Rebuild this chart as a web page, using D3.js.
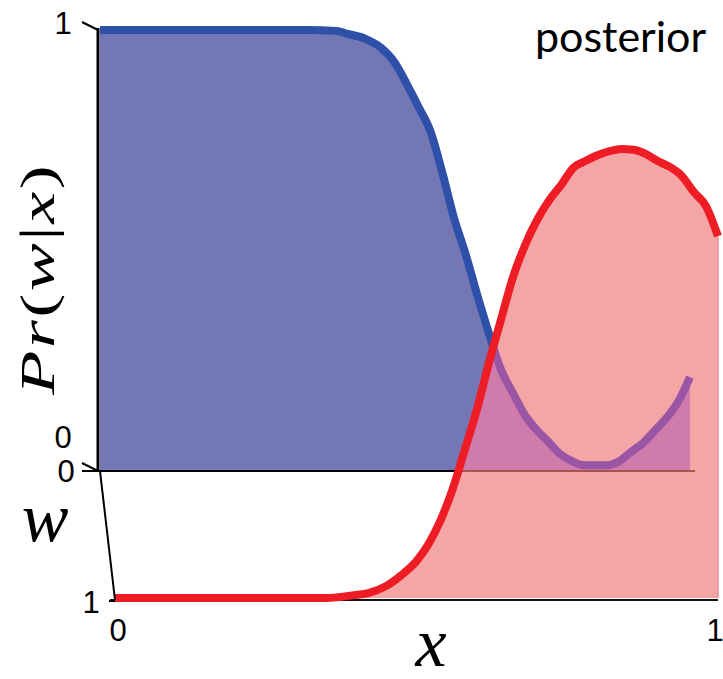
<!DOCTYPE html>
<html>
<head>
<meta charset="utf-8">
<script src="https://cdn.jsdelivr.net/npm/d3@7/dist/d3.min.js"></script>
<style>
  html, body { margin: 0; padding: 0; background: #fff; }
  svg { display: block; }
</style>
</head>
<body>
<script>
// Posterior Pr(w|x) for the two world states, drawn as two receding planes.
const xGrid = [0, 0.1, 0.2, 0.3, 0.35, 0.40, 0.42, 0.45, 0.475, 0.50,
  0.52, 0.54, 0.56, 0.58, 0.60, 0.62, 0.64, 0.66, 0.68, 0.70,
  0.72, 0.74, 0.76, 0.78, 0.80, 0.82, 0.84, 0.86, 0.88, 0.90,
  0.92, 0.94, 0.96, 0.98, 1.00];
// Pr(w=0|x)
const postW0 = [1, 1, 1, 1, 1, 0.998, 0.991, 0.98, 0.961, 0.925,
  0.877, 0.825, 0.77, 0.677, 0.573, 0.489, 0.395, 0.307, 0.227, 0.175,
  0.125, 0.091, 0.064, 0.036, 0.02, 0.011, 0.011, 0.011, 0.02, 0.041,
  0.061, 0.089, 0.118, 0.155, 0.211];
// Pr(w=1|x)
const postW1 = [0, 0, 0, 0, 0, 0.007, 0.011, 0.027, 0.051, 0.082,
  0.12, 0.173, 0.242, 0.329, 0.418, 0.522, 0.618, 0.713, 0.784, 0.84,
  0.884, 0.918, 0.956, 0.971, 0.984, 0.993, 0.998, 0.996, 0.987, 0.971,
  0.958, 0.938, 0.902, 0.871, 0.804];
const xTicks = [0, 1];
const probTicks = [0, 1];
const wTicks = [0, 1];
const title = "posterior";

const W = 723, H = 679;
const svg = d3.select("body").append("svg").attr("width", W).attr("height", H);

// back plane (w = 0) and front plane (w = 1)
const xBack = d3.scaleLinear().domain([0, 1]).range([100, 690]);
const yBack = d3.scaleLinear().domain([0, 1]).range([470, 30]);
const xFront = d3.scaleLinear().domain([0, 1]).range([115, 718]);
const yFront = d3.scaleLinear().domain([0, 1]).range([598, 148]);
// receding w axis
const wX = d3.scaleLinear().domain([0, 1]).range([100, 115]);
const wY = d3.scaleLinear().domain([0, 1]).range([471, 600]);

const back = xGrid.map((x, i) => ({ x, p: postW0[i] }));
const front = xGrid.map((x, i) => ({ x, p: postW1[i] }));

const curve = d3.curveMonotoneX;
const areaBack = d3.area().x(d => xBack(d.x)).y0(yBack(0)).y1(d => yBack(d.p)).curve(curve);
const lineBack = d3.line().x(d => xBack(d.x)).y(d => yBack(d.p)).curve(curve);
const areaFront = d3.area().x(d => xFront(d.x)).y0(yFront(0)).y1(d => yFront(d.p)).curve(curve);
const lineFront = d3.line().x(d => xFront(d.x)).y(d => yFront(d.p)).curve(curve);

const COL = {
  blueFill: "#7378b5", blueLine: "#2e50a8",
  redFill: "#f4a6a7", redLine: "#ee1c25",
  mixFill: "#cf7bac", mixLine: "#9b55a5", mixBase: "#a8544f"
};

svg.append("defs").append("clipPath").attr("id", "frontClip")
  .append("path").attr("d", areaFront(front));

// back plane
svg.append("path").attr("d", areaBack(back)).attr("fill", COL.blueFill);
svg.append("path").attr("d", lineBack(back)).attr("fill", "none")
  .attr("stroke", COL.blueLine).attr("stroke-width", 8).attr("stroke-linejoin", "round");
svg.append("line").attr("x1", 82).attr("x2", xBack(1) + 5)
  .attr("y1", yBack(0) + 1).attr("y2", yBack(0) + 1)
  .attr("stroke", "#000").attr("stroke-width", 2);
svg.append("line").attr("x1", xBack(0) - 2).attr("x2", xBack(0) - 2)
  .attr("y1", yBack(1) - 2).attr("y2", yBack(0) + 1)
  .attr("stroke", "#000").attr("stroke-width", 3);

// front plane
svg.append("path").attr("d", areaFront(front)).attr("fill", COL.redFill);
svg.append("line").attr("x1", xFront(1)).attr("x2", xFront(1))
  .attr("y1", yFront(front[front.length - 1].p)).attr("y2", yFront(0))
  .attr("stroke", "#ee8f91").attr("stroke-width", 1.5);

// back plane seen through the front plane
const seen = svg.append("g").attr("clip-path", "url(#frontClip)");
seen.append("path").attr("d", areaBack(back)).attr("fill", COL.mixFill);
seen.append("path").attr("d", lineBack(back)).attr("fill", "none")
  .attr("stroke", COL.mixLine).attr("stroke-width", 8).attr("stroke-linejoin", "round");
seen.append("line").attr("x1", 82).attr("x2", xBack(1) + 5)
  .attr("y1", yBack(0) + 1).attr("y2", yBack(0) + 1)
  .attr("stroke", COL.mixBase).attr("stroke-width", 2);

// front baseline and curve
svg.append("line").attr("x1", 110).attr("x2", xFront(1))
  .attr("y1", yFront(0) + 2).attr("y2", yFront(0) + 2)
  .attr("stroke", "#111").attr("stroke-width", 2);
svg.append("path").attr("d", lineFront(front)).attr("fill", "none")
  .attr("stroke", COL.redLine).attr("stroke-width", 8).attr("stroke-linejoin", "round");

// w axis
svg.append("line").attr("x1", wX(0)).attr("y1", wY(0)).attr("x2", wX(1)).attr("y2", wY(1))
  .attr("stroke", "#000").attr("stroke-width", 2);

const numFont = "'Liberation Sans', Arial, sans-serif";
const tickG = svg.append("g").attr("font-family", numFont).attr("font-size", 31).attr("fill", "#000");

// probability ticks (slanted, following the receding direction)
probTicks.forEach(p => {
  const ax = xBack(0) - 2, ay = yBack(p) + (p === 0 ? 1 : 0);
  svg.append("line").attr("x1", ax - 16).attr("y1", ay - 8).attr("x2", ax).attr("y2", ay)
    .attr("stroke", "#000").attr("stroke-width", 2);
  tickG.append("text").attr("x", 63).attr("y", p === 1 ? 34 : 448)
    .attr("text-anchor", "middle").text(p);
});

// w ticks
wTicks.forEach(w => {
  const ax = wX(w), ay = wY(w) + (w === 1 ? 1 : 0);
  if (w === 1) {
    svg.append("line").attr("x1", ax - 6).attr("y1", ay).attr("x2", ax).attr("y2", ay)
      .attr("stroke", "#000").attr("stroke-width", 2);
  }
  tickG.append("text").attr("x", w === 0 ? 66 : 91).attr("y", w === 0 ? 482 : 613)
    .attr("text-anchor", "middle").text(w);
});

// x ticks
xTicks.forEach(x => {
  tickG.append("text").attr("x", xFront(x) + (x === 0 ? 3 : -3)).attr("y", 641)
    .attr("text-anchor", "middle").text(x);
});

// axis titles
const serif = "'Liberation Serif', 'DejaVu Serif', serif";
svg.append("text").attr("x", 431).attr("y", 666).attr("text-anchor", "middle")
  .attr("font-family", serif).attr("font-style", "italic").attr("font-size", 70).text("x");
svg.append("text").attr("x", 45).attr("y", 541).attr("text-anchor", "middle")
  .attr("font-family", serif).attr("font-style", "italic").attr("font-size", 70).text("w");

// vertical title, stretched along its reading direction
const prLabel = svg.append("text")
  .attr("transform", "translate(54,280) rotate(-90) scale(1.5,1)")
  .attr("text-anchor", "middle")
  .attr("font-family", serif).attr("font-size", 48)
  .attr("textLength", 153).attr("lengthAdjust", "spacing");
[["P", true], ["r", true], ["(", false], ["w", true], ["|", false], ["x", true], [")", false]]
  .forEach(([s, it]) => prLabel.append("tspan").attr("font-style", it ? "italic" : "normal").text(s));

svg.append("text").attr("x", 535).attr("y", 52)
  .attr("font-family", "Lato, 'Open Sans', sans-serif").attr("font-size", 43)
  .attr("fill", "#000").text(title);
</script>
</body>
</html>
